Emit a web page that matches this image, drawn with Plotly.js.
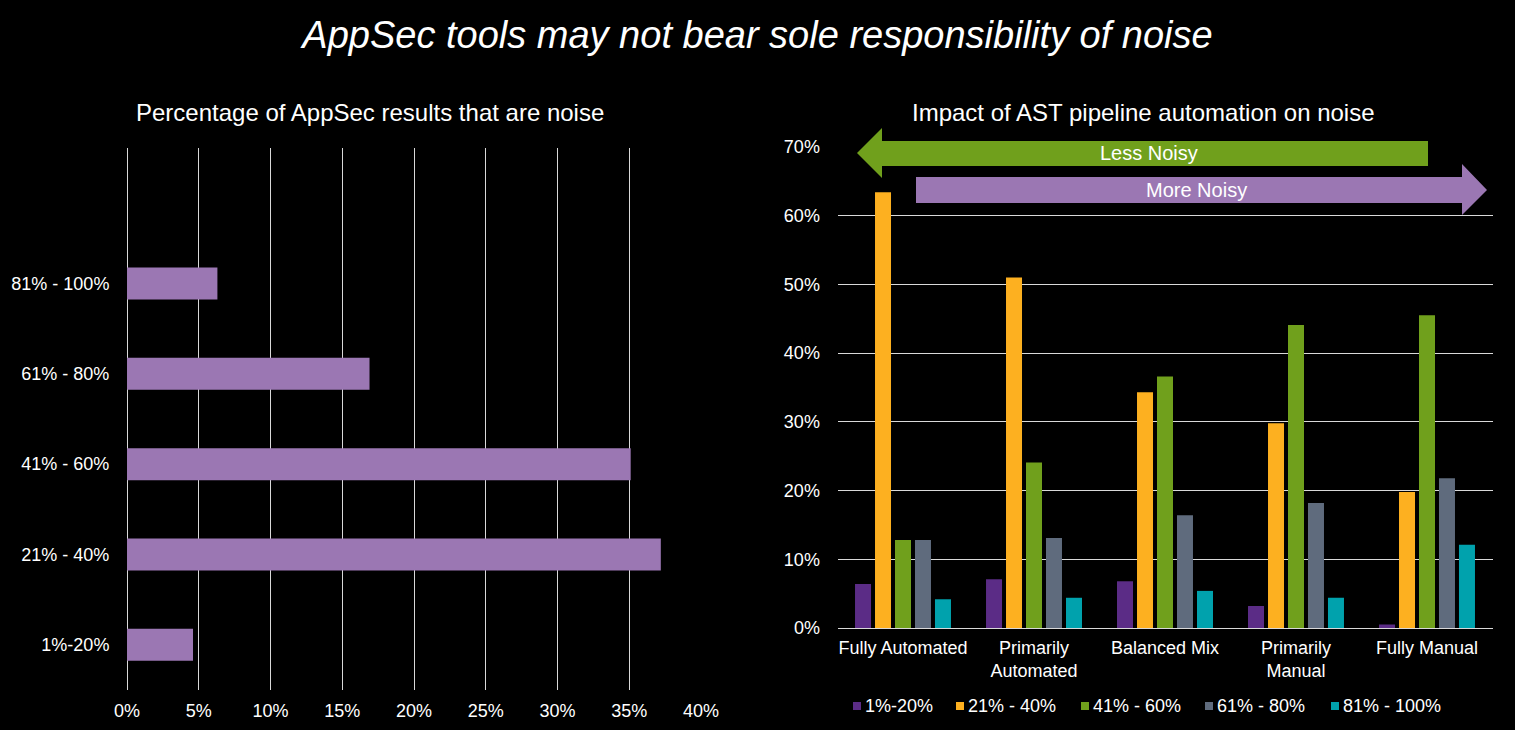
<!DOCTYPE html>
<html>
<head>
<meta charset="utf-8">
<script src="https://cdn.plot.ly/plotly-3.0.1.min.js"></script>
<style>
  html, body { margin: 0; padding: 0; background: #000; }
  #chart { width: 1515px; height: 730px; }
</style>
</head>
<body>
<div id="chart"></div>
<script>
(function () {
  "use strict";

  /* ---- data ---- */
  // left panel: share of respondents by noise bucket
  const noiseBuckets = ["1%-20%", "21% - 40%", "41% - 60%", "61% - 80%", "81% - 100%"];
  const noiseShare   = [0.046, 0.372, 0.351, 0.169, 0.063];

  // right panel: noise bucket split by pipeline automation level
  const automation = ["Fully Automated", "Primarily<br>Automated", "Balanced Mix", "Primarily<br>Manual", "Fully Manual"];
  const b1to20   = [0.064, 0.071, 0.068, 0.032, 0.005];
  const b21to40  = [0.634, 0.510, 0.343, 0.298, 0.198];
  const b41to60  = [0.128, 0.241, 0.366, 0.441, 0.455];
  const b61to80  = [0.128, 0.131, 0.164, 0.182, 0.218];
  const b81to100 = [0.042, 0.044, 0.054, 0.044, 0.121];

  /* ---- palette ---- */
  const PC = {
    lavender: "#9b77b3",
    purple:   "#5b2c86",
    orange:   "#fdb020",
    green:    "#70a01c",
    slate:    "#5f6b7d",
    teal:     "#00a2ad",
    grid:     "#d9d9d9",
  };
  const FONT = "Liberation Sans, Arial, sans-serif";

  // figure is drawn with zero margins so paper coords map 1:1 to pixels
  const W = 1515, H = 730;
  const px = x => x / W;
  const py = y => 1 - y / H;

  /* ---- traces ---- */
  const left = {
    type: "bar",
    orientation: "h",
    x: noiseShare,
    y: noiseBuckets,
    width: 0.355,
    marker: { color: PC.lavender },
    xaxis: "x",
    yaxis: "y",
    hoverinfo: "skip",
  };

  const series = [
    { name: noiseBuckets[0], vals: b1to20,   color: PC.purple },
    { name: noiseBuckets[1], vals: b21to40,  color: PC.orange },
    { name: noiseBuckets[2], vals: b41to60,  color: PC.green },
    { name: noiseBuckets[3], vals: b61to80,  color: PC.slate },
    { name: noiseBuckets[4], vals: b81to100, color: PC.teal },
  ];

  const traces = [left].concat(series.map(s => ({
    type: "bar",
    name: s.name,
    x: automation,
    y: s.vals,
    marker: { color: s.color },
    xaxis: "x2",
    yaxis: "y2",
    hoverinfo: "skip",
  })));

  /* ---- direction arrows (decoration) ---- */
  function pathOf(pts) {
    return "M " + pts.map(p => px(p[0]) + "," + py(p[1])).join(" L ") + " Z";
  }
  const lessArrow = pathOf([[857, 153], [882, 128], [882, 141], [1428, 141],
                            [1428, 166], [882, 166], [882, 178]]);
  const moreArrow = pathOf([[916, 177], [1462, 177], [1462, 164], [1487, 190],
                            [1462, 215], [1462, 203], [916, 203]]);

  /* ---- hand-placed legend: small square right next to the label, like the slide ---- */
  const legendX = [853, 956, 1081, 1205, 1331];  // left edge of each swatch, px
  const legendY = 706;
  const legendShapes = series.map((s, i) => ({
    type: "rect", xref: "paper", yref: "paper",
    x0: px(legendX[i]), x1: px(legendX[i] + 8),
    y0: py(legendY + 4), y1: py(legendY - 4),
    fillcolor: s.color, line: { width: 0 },
  }));
  const legendText = series.map((s, i) => ({
    text: s.name, xref: "paper", yref: "paper",
    x: px(legendX[i] + 10), y: py(legendY),
    xanchor: "left", yanchor: "middle", showarrow: false,
    font: { family: FONT, size: 18, color: "#ffffff" },
  }));

  const tickFont = { family: FONT, size: 18, color: "#ffffff" };

  const layout = {
    width: W,
    height: H,
    paper_bgcolor: "#000000",
    plot_bgcolor: "#000000",
    margin: { l: 0, r: 0, t: 0, b: 0 },
    font: { family: FONT, color: "#ffffff" },
    showlegend: false,
    title: {
      text: "<i>AppSec tools may not bear sole responsibility of noise</i>",
      font: { family: FONT, size: 38, color: "#ffffff" },
      x: 0.5, xanchor: "center",
      y: py(35), yanchor: "middle", yref: "container",
    },
    barmode: "group",
    bargap: 0.237,
    bargroupgap: 0.2,
    xaxis: {
      domain: [px(127), px(701)],
      anchor: "y",
      range: [0, 0.40],
      dtick: 0.05,
      tickformat: ".0%",
      showgrid: true,
      gridcolor: PC.grid,
      gridwidth: 1,
      zeroline: true,
      zerolinecolor: PC.grid,
      zerolinewidth: 1,
      showline: false,
      ticks: "outside",
      ticklen: 4,
      tickcolor: "rgba(0,0,0,0)",
      tickfont: tickFont,
      fixedrange: true,
    },
    yaxis: {
      domain: [py(690), py(148)],
      anchor: "x",
      type: "category",
      categoryorder: "array",
      categoryarray: noiseBuckets,
      range: [-0.5, 5.5],
      showgrid: false,
      zeroline: false,
      showline: false,
      ticks: "outside",
      ticklen: 13,
      tickcolor: "rgba(0,0,0,0)",
      tickfont: tickFont,
      fixedrange: true,
    },
    xaxis2: {
      domain: [px(837.5), px(1492.5)],
      anchor: "y2",
      type: "category",
      showgrid: false,
      zeroline: false,
      showline: false,
      ticks: "outside",
      ticklen: 3,
      tickcolor: "rgba(0,0,0,0)",
      tickfont: tickFont,
      fixedrange: true,
    },
    yaxis2: {
      domain: [py(628), py(147)],
      anchor: "x2",
      range: [0, 0.70],
      dtick: 0.10,
      tickformat: ".0%",
      showgrid: true,
      gridcolor: PC.grid,
      gridwidth: 1,
      zeroline: true,
      zerolinecolor: PC.grid,
      zerolinewidth: 1,
      showline: false,
      ticks: "outside",
      ticklen: 13,
      tickcolor: "rgba(0,0,0,0)",
      tickfont: tickFont,
      fixedrange: true,
    },
    shapes: [
      { type: "path", xref: "paper", yref: "paper", path: lessArrow,
        fillcolor: PC.green, line: { width: 0 }, layer: "above" },
      { type: "path", xref: "paper", yref: "paper", path: moreArrow,
        fillcolor: PC.lavender, line: { width: 0 }, layer: "above" },
    ].concat(legendShapes),
    annotations: [
      { text: "Percentage of AppSec results that are noise", xref: "paper", yref: "paper",
        x: px(370), y: py(112), xanchor: "center", yanchor: "middle", showarrow: false,
        font: { family: FONT, size: 24, color: "#ffffff" } },
      { text: "Impact of AST pipeline automation on noise", xref: "paper", yref: "paper",
        x: px(1143), y: py(112), xanchor: "center", yanchor: "middle", showarrow: false,
        font: { family: FONT, size: 24, color: "#ffffff" } },
      { text: "Less Noisy", xref: "paper", yref: "paper",
        x: px(1149), y: py(153), xanchor: "center", yanchor: "middle", showarrow: false,
        font: { family: FONT, size: 20, color: "#ffffff" } },
      { text: "More Noisy", xref: "paper", yref: "paper",
        x: px(1196), y: py(190), xanchor: "center", yanchor: "middle", showarrow: false,
        font: { family: FONT, size: 20, color: "#ffffff" } },
    ].concat(legendText),
  };

  Plotly.newPlot("chart", traces, layout, { displayModeBar: false, staticPlot: true });
})();
</script>
</body>
</html>
